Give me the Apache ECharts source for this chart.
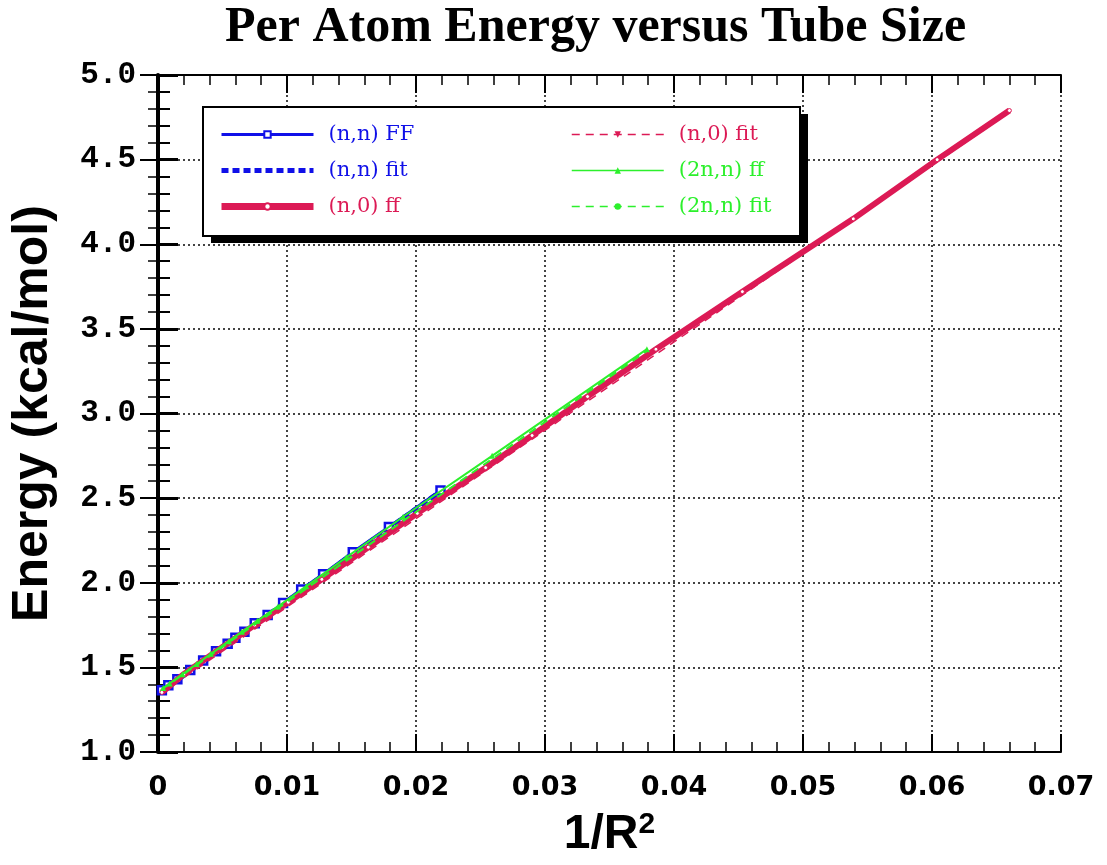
<!DOCTYPE html>
<html><head><meta charset="utf-8">
<script src="https://cdn.jsdelivr.net/npm/echarts@6/dist/echarts.min.js"></script>
<style>html,body{margin:0;padding:0;background:#fff}#c{width:1107px;height:865px}</style>
</head><body><div id="c"></div>
<script>
// ---- data ----
const titleText = 'Per Atom Energy versus Tube Size';
const xName = '1/R';
const yName = 'Energy (kcal/mol)';
const seriesNames = ['(n,n) FF', '(n,n) fit', '(n,0) ff', '(n,0) fit', '(2n,n) ff', '(2n,n) fit'];

const nnFF_x = [0.0003, 0.0008, 0.0015, 0.0025, 0.0035, 0.0045, 0.0054, 0.0060, 0.0067, 0.0075, 0.0085, 0.0097, 0.0111, 0.0128, 0.0151, 0.0179, 0.0219];
const nnFF_y = [1.365, 1.395, 1.430, 1.485, 1.540, 1.595, 1.640, 1.675, 1.710, 1.760, 1.810, 1.880, 1.960, 2.050, 2.180, 2.330, 2.545];
const nnFit_x = [0.0003, 0.0219];
const nnFit_y = [1.360, 2.540];

const n0FF_x = [0.0003, 0.0020, 0.0050, 0.0075, 0.0101, 0.0127, 0.0163, 0.0201, 0.0254, 0.0290, 0.0333, 0.0386, 0.0453, 0.0539, 0.0604, 0.0660];
const n0FF_y = [1.352, 1.460, 1.620, 1.750, 1.885, 2.020, 2.210, 2.410, 2.680, 2.870, 3.100, 3.380, 3.720, 4.150, 4.500, 4.790];
const n0Fit_x = [0.0003, 0.0660];
const n0Fit_y = [1.350, 4.780];

const n2FF_x = [0.0004, 0.0009, 0.0019, 0.0030, 0.0041, 0.0055, 0.0065, 0.0077, 0.0093, 0.0115, 0.0146, 0.0190, 0.0259, 0.0379];
const n2FF_y = [1.378, 1.405, 1.460, 1.520, 1.580, 1.655, 1.710, 1.775, 1.860, 1.980, 2.150, 2.390, 2.750, 3.380];
const n2Fit_x = [0.0003, 0.0379];
const n2Fit_y = [1.370, 3.370];

const xMin = 0, xMax = 0.07, xStep = 0.01;
const yMin = 1.0, yMax = 5.0, yStep = 0.5;

// ---- styles ----
const BLUE = '#1010e8', RED = '#dc1a55', GREEN = '#2cf02c';
const pts = (xs, ys) => xs.map((x, i) => [x, ys[i]]);

const chart = echarts.init(document.getElementById('c'), null, {renderer: 'canvas'});

const frameAxis = {
  axisLine: {show: true, lineStyle: {color: '#000', width: 2}},
  axisTick: {show: true, inside: true, length: 18, lineStyle: {color: '#000', width: 2}},
  minorTick: {show: true, splitNumber: 5, length: 10, lineStyle: {color: '#000', width: 1.5}},
  axisLabel: {show: false},
  splitLine: {show: false}
};

const legendCommon = {
  orient: 'vertical', top: 119, itemWidth: 92, itemHeight: 8, itemGap: 15, z: 5,
  selectedMode: false,
  textStyle: {fontFamily: 'DejaVu Serif', fontSize: 21, padding: [0, 0, 0, 10]}
};

const option = {
  backgroundColor: '#fff',
  animation: false,
  title: {
    text: titleText, left: 220, top: -2,
    textStyle: {fontFamily: 'Liberation Serif', fontWeight: 'bold', fontSize: 50, color: '#000'}
  },
  grid: {left: 158, right: 46, top: 75, bottom: 113},
  graphic: [{
    type: 'rect', z: 1,
    shape: {x: 211, y: 114, width: 597, height: 129},
    style: {fill: '#000'}
  }, {
    type: 'rect', z: 1,
    shape: {x: 203, y: 107, width: 597, height: 129},
    style: {fill: '#fff', stroke: '#000', lineWidth: 2}
  }],
  legend: [Object.assign({}, legendCommon, {
    left: 213,
    data: [
      {name: seriesNames[0], textStyle: {color: BLUE}, lineStyle: {width: 3}},
      {name: seriesNames[1], textStyle: {color: BLUE}, lineStyle: {width: 5}, itemStyle: {opacity: 0}},
      {name: seriesNames[2], textStyle: {color: RED}, lineStyle: {width: 7}}
    ]
  }), Object.assign({}, legendCommon, {
    left: 566,
    data: [
      {name: seriesNames[3], textStyle: {color: RED}, lineStyle: {width: 1.5}},
      {name: seriesNames[4], textStyle: {color: GREEN}, lineStyle: {width: 1.5}},
      {name: seriesNames[5], textStyle: {color: GREEN}, lineStyle: {width: 1.5}}
    ]
  })],
  xAxis: [{
    type: 'value', min: xMin, max: xMax, interval: xStep, position: 'bottom',
    name: '{a|' + xName + '}{s|2}', nameLocation: 'middle', nameGap: 58,
    nameTextStyle: {
      rich: {
        a: {fontFamily: 'Liberation Sans', fontWeight: 'bold', fontSize: 48, color: '#000', lineHeight: 50},
        s: {fontFamily: 'Liberation Sans', fontWeight: 'bold', fontSize: 30, color: '#000', verticalAlign: 'top', lineHeight: 50}
      }
    },
    axisLine: {show: true, onZero: false, lineStyle: {color: '#000', width: 2}},
    axisTick: {show: true, inside: true, length: 18, lineStyle: {color: '#000', width: 2}},
    minorTick: {show: true, splitNumber: 5, length: 10, lineStyle: {color: '#000', width: 1.5}},
    axisLabel: {
      margin: 22, color: '#000', fontFamily: 'DejaVu Sans', fontWeight: 'bold', fontSize: 27,
      formatter: v => v === 0 ? '0' : v.toFixed(2)
    },
    splitLine: {show: true, lineStyle: {color: '#444', width: 2, type: [2, 3]}}
  }, Object.assign({type: 'value', min: xMin, max: xMax, interval: xStep, position: 'top'}, frameAxis)],
  yAxis: [{
    type: 'value', min: yMin, max: yMax, interval: yStep, position: 'left',
    name: yName, nameLocation: 'middle', nameGap: 100, nameRotate: 90,
    nameTextStyle: {fontFamily: 'Liberation Sans', fontWeight: 'bold', fontSize: 50, color: '#000'},
    axisLine: {show: true, onZero: false, lineStyle: {color: '#000', width: 4}},
    axisTick: {show: true, inside: true, length: 20, lineStyle: {color: '#000', width: 3}},
    minorTick: {show: true, splitNumber: 5, length: 12, lineStyle: {color: '#000', width: 2}},
    axisLabel: {
      margin: 22, color: '#000', fontFamily: 'Liberation Mono', fontWeight: 'bold', fontSize: 31,
      formatter: v => v.toFixed(1)
    },
    splitLine: {show: true, lineStyle: {color: '#444', width: 2, type: [2, 3]}}
  }, Object.assign({type: 'value', min: yMin, max: yMax, interval: yStep, position: 'right'}, frameAxis)],
  series: [
    {
      name: seriesNames[0], type: 'line', data: pts(nnFF_x, nnFF_y), z: 3,
      symbol: 'rect', symbolSize: 8, showSymbol: true,
      itemStyle: {color: '#fff', borderColor: BLUE, borderWidth: 2.5},
      lineStyle: {color: BLUE, width: 3}
    },
    {
      name: seriesNames[1], type: 'line', data: pts(nnFit_x, nnFit_y), z: 3,
      symbol: 'none',
      itemStyle: {color: BLUE},
      lineStyle: {color: BLUE, width: 5, type: [7, 4]}
    },
    {
      name: seriesNames[2], type: 'line', data: pts(n0FF_x, n0FF_y), z: 4,
      symbol: 'circle', symbolSize: 4, showSymbol: true,
      itemStyle: {color: '#fff', borderColor: RED, borderWidth: 1},
      lineStyle: {color: RED, width: 6}
    },
    {
      name: seriesNames[3], type: 'line', data: pts(n0Fit_x, n0Fit_y), z: 4,
      symbol: 'triangle', symbolRotate: 180, symbolSize: 6, showSymbol: false,
      itemStyle: {color: RED},
      lineStyle: {color: RED, width: 1.5, type: [8, 6]}
    },
    {
      name: seriesNames[4], type: 'line', data: pts(n2FF_x, n2FF_y), z: 5,
      symbol: 'triangle', symbolSize: 6, showSymbol: true,
      itemStyle: {color: GREEN},
      lineStyle: {color: GREEN, width: 2}
    },
    {
      name: seriesNames[5], type: 'line', data: pts(n2Fit_x, n2Fit_y), z: 5,
      symbol: 'circle', symbolSize: 5, showSymbol: false,
      itemStyle: {color: GREEN},
      lineStyle: {color: GREEN, width: 2, type: [8, 6]}
    }
  ]
};
chart.setOption(option);
</script>
</body></html>
